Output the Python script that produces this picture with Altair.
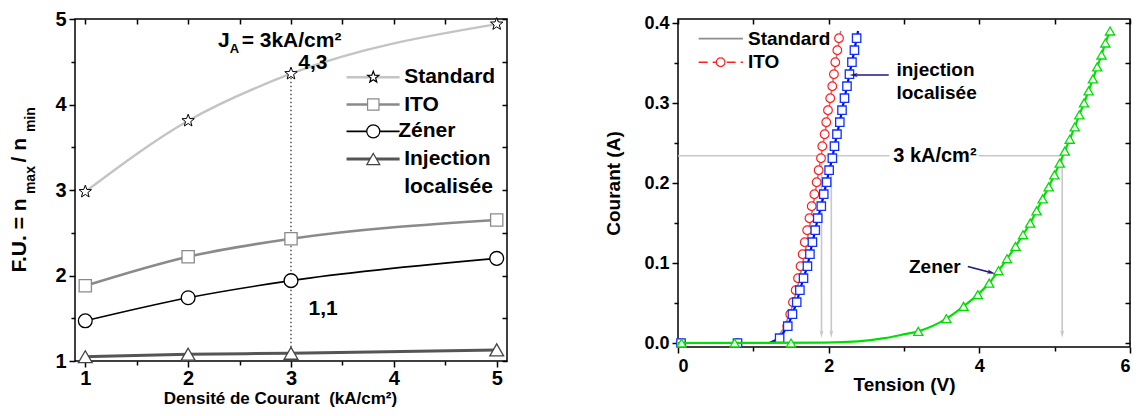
import altair as alt
import pandas as pd

FONT = "Liberation Sans"

# ---------------- left panel : F.U. vs current density ----------------
density = [1, 2, 3, 5]
fu_standard = [2.98, 3.81, 4.36, 4.94]
fu_ito = [1.88, 2.22, 2.43, 2.65]
fu_zener = [1.47, 1.74, 1.94, 2.20]
fu_injection = [1.05, 1.08, 1.09, 1.13]

left_x_major = [1, 2, 3, 4, 5]
left_x_minor = [1.5, 2.5, 3.5, 4.5]
left_y_major = [1, 2, 3, 4, 5]
left_y_minor = [1.5, 2.5, 3.5, 4.5]
left_inner = [1.0, 1.5, 2.0, 2.5, 3.0, 3.5, 4.0, 4.5, 5.0]

legend_left_labels = ["Standard", "ITO", "Zéner", "Injection"]

# ---------------- right panel : I(V) ----------------
std_v = [0.0, 1.2, 1.3, 1.4, 1.5, 1.6, 1.7, 1.8, 1.9, 2.0, 2.1, 2.16]
std_i = [0.0, 0.0, 0.004, 0.018, 0.04, 0.075, 0.12, 0.175, 0.234, 0.29, 0.355, 0.39]

steps_i = [0.021, 0.036, 0.051, 0.066, 0.081, 0.096, 0.111, 0.126, 0.141, 0.156,
           0.171, 0.186, 0.201, 0.216, 0.231, 0.246, 0.261, 0.276, 0.291, 0.306,
           0.321, 0.336, 0.351, 0.366, 0.381]

ito_v = [0.04, 0.79, 1.45, 1.49, 1.526, 1.562, 1.593, 1.627, 1.655, 1.683, 1.715,
         1.745, 1.775, 1.81, 1.841, 1.867, 1.898, 1.915, 1.947, 1.968, 1.991, 2.021,
         2.048, 2.07, 2.088, 2.115, 2.137]
ito_i = [0.0, 0.0] + steps_i

inj_v = [0.04, 0.79, 1.349, 1.457, 1.519, 1.576, 1.618, 1.666, 1.718, 1.751, 1.784,
         1.822, 1.855, 1.902, 1.935, 1.973, 2.006, 2.049, 2.077, 2.110, 2.148, 2.177,
         2.210, 2.243, 2.276, 2.309, 2.342, 2.371]
inj_i = [0.0, 0.0, 0.006] + steps_i
inj_line_v = [0.0, 1.22] + inj_v[2:] + [2.39]
inj_line_i = [0.0, 0.0] + inj_i[2:] + [0.39]

zen_v = [0.047, 0.752, 1.500, 3.189, 3.563, 3.790, 3.980, 4.131, 4.254, 4.368, 4.481,
         4.580, 4.675, 4.760, 4.841, 4.921, 4.997, 5.068, 5.134, 5.200, 5.267, 5.328,
         5.390, 5.451, 5.508, 5.565, 5.622, 5.673, 5.735]
zen_i = [0.0, 0.0, 0.0, 0.0146, 0.0304, 0.0458, 0.0604, 0.0749, 0.0903, 0.1053,
         0.1207, 0.1353, 0.1498, 0.1652, 0.1802, 0.1952, 0.2102, 0.2248, 0.2398,
         0.2547, 0.2701, 0.2851, 0.3001, 0.3151, 0.3301, 0.3451, 0.3600, 0.3750, 0.3900]
zen_line_v = [0.0, 1.95, 2.39, 2.74, 3.01]
zen_line_i = [0.0, 0.0005, 0.002, 0.006, 0.011]

ref_level = 0.234                      # 3 kA/cm2
ref_drop_v = [1.905, 2.035, 5.10]      # voltages read at 3 kA/cm2
right_x_major = [0, 2, 4, 6]
right_x_minor = [1, 3, 5]
right_x_inner = [0, 1, 2, 3, 4, 5, 6]
right_y_major = [0.0, 0.1, 0.2, 0.3, 0.4]
right_y_minor = [0.05, 0.15, 0.25, 0.35]
right_y_inner = [0.0, 0.05, 0.1, 0.15, 0.2, 0.25, 0.3, 0.35, 0.4]

STAR = ("M0,-1L0.247,-0.34L0.951,-0.309L0.399,0.13L0.588,0.809L0,0.42"
        "L-0.588,0.809L-0.399,0.13L-0.951,-0.309L-0.247,-0.34Z")
HEAD = "M0,-1L0.5,1L0,0.55L-0.5,1Z"


def frame(**cols):
    return pd.DataFrame(cols)


def major_axis(orient, values, fmt, lab_size, title=None, title_size=16,
               tick=6, lab_pad=2, title_pad=4, **extra):
    return alt.Axis(orient=orient, values=values, format=fmt, title=title,
                    labelFont=FONT, labelFontSize=lab_size, labelFontWeight="bold",
                    labelColor="black", titleFont=FONT, titleFontSize=title_size,
                    titleFontWeight="bold", titleColor="black", tickSize=tick,
                    tickWidth=1.5, tickColor="black", labelPadding=lab_pad,
                    titlePadding=title_pad, domain=False, grid=False, **extra)


def minor_axis(orient, values, tick=4):
    return alt.Axis(orient=orient, values=values, labels=False, title=None,
                    tickSize=tick, tickWidth=1.5, tickColor="black",
                    domain=False, grid=False)


def inner_axis(orient, values, tick=5):
    return alt.Axis(orient=orient, values=values, labels=False, title=None,
                    tickSize=tick, offset=-tick, tickWidth=1.5, tickColor="black",
                    domain=False, grid=False)


def text_layer(data, xs, ys, size, align="left", color="black", angle=0, xval=None):
    enc = dict(y=alt.Y("y:Q", scale=ys, axis=None), text="t:N")
    if xval is None:
        enc["x"] = alt.X("x:Q", scale=xs, axis=None)
    else:
        enc["x"] = alt.value(xval)
    props = dict(font=FONT, fontSize=size, fontWeight="bold", align=align,
                 baseline="middle", color=color)
    if angle:
        props["angle"] = angle
    return alt.Chart(data).mark_text(**props).encode(**enc)


# ======================= LEFT PANEL =======================
xL = alt.Scale(domain=[0.9, 5.1], nice=False, zero=False)
yL = alt.Scale(domain=[1, 5], nice=False, zero=False)

def lx(axis=None):
    return alt.X("x:Q", scale=xL, axis=axis)

def ly(axis=None):
    return alt.Y("y:Q", scale=yL, axis=axis)

std_df = frame(x=density, y=fu_standard)
ito_df = frame(x=density, y=fu_ito)
zen_df = frame(x=density, y=fu_zener)
inj_df = frame(x=density, y=fu_injection)

left_layers = [
    alt.Chart(std_df).mark_line(color="#c4c4c4", strokeWidth=2.4, interpolate="monotone").encode(
        x=lx(major_axis("bottom", left_x_major, "d", 20,
                        title="Densité de Courant\u00a0\u00a0(kA/cm²)", title_size=17,
                        tick=6, lab_pad=1, title_pad=2, titleX=205)),
        y=ly(major_axis("left", left_y_major, "d", 20, tick=6, lab_pad=3))),
    alt.Chart(ito_df).mark_line(color="#8a8a8a", strokeWidth=2.6, interpolate="monotone").encode(
        x=lx(minor_axis("bottom", left_x_minor)), y=ly(minor_axis("left", left_y_minor))),
    alt.Chart(zen_df).mark_line(color="black", strokeWidth=1.6, interpolate="monotone").encode(
        x=lx(inner_axis("top", left_inner)), y=ly(inner_axis("right", left_inner))),
    alt.Chart(inj_df).mark_line(color="#555555", strokeWidth=3, interpolate="monotone").encode(
        x=lx(), y=ly()),
    # dotted guide at 3 kA/cm2
    alt.Chart(frame(x=[3], y=[fu_standard[2]], y2=[fu_injection[2]])).mark_rule(
        color="black", strokeWidth=1, strokeDash=[1.5, 2.5]).encode(
        x=lx(), y=ly(), y2="y2:Q"),
    alt.Chart(std_df).mark_point(shape=STAR, size=170, filled=True, fill="white",
                                 stroke="black", strokeWidth=1, opacity=1).encode(x=lx(), y=ly()),
    alt.Chart(ito_df).mark_point(shape="square", size=150, filled=True, fill="white",
                                 stroke="#8a8a8a", strokeWidth=1.3, opacity=1).encode(x=lx(), y=ly()),
    alt.Chart(zen_df).mark_point(shape="circle", size=190, filled=True, fill="white",
                                 stroke="black", strokeWidth=1.3, opacity=1).encode(x=lx(), y=ly()),
    alt.Chart(inj_df).mark_point(shape="triangle-up", size=190, filled=True, fill="white",
                                 stroke="#444444", strokeWidth=1.3, opacity=1).encode(x=lx(), y=ly()),
]

# legend (drawn with the same styles)
leg_y = [4.319, 4.0, 3.686, 3.362]
leg_styles = [("#c4c4c4", 2.4, STAR, "black", 140),
              ("#8a8a8a", 2.6, "square", "#8a8a8a", 130),
              ("black", 1.6, "circle", "black", 170),
              ("#555555", 3, "triangle-up", "#444444", 170)]
for k, (col, w, shp, scol, sz) in enumerate(leg_styles):
    left_layers.append(
        alt.Chart(frame(x=[3.54], x2=[4.056], y=[leg_y[k]])).mark_rule(
            color=col, strokeWidth=w).encode(x=lx(), x2="x2:Q", y=ly()))
    left_layers.append(
        alt.Chart(frame(x=[3.80], y=[leg_y[k]])).mark_point(
            shape=shp, size=sz, filled=True, fill="white", stroke=scol,
            strokeWidth=1.2, opacity=1).encode(x=lx(), y=ly()))
left_layers.append(text_layer(
    frame(x=[4.10, 4.10, 4.043, 4.10, 4.10], y=leg_y + [3.030],
          t=legend_left_labels + ["localisée"]), xL, yL, 21))

# annotations
left_layers += [
    text_layer(frame(x=[2.29], y=[4.743], t=["J"]), xL, yL, 21),
    text_layer(frame(x=[2.405], y=[4.644], t=["A"]), xL, yL, 13),
    text_layer(frame(x=[2.52], y=[4.743], t=["= 3kA/cm²"]), xL, yL, 21),
    text_layer(frame(x=[3.07, 3.17], y=[4.49, 1.605], t=["4,3", "1,1"]), xL, yL, 21),
    # y-axis title  F.U. = n_max / n_min
    text_layer(frame(y=[2.035, 3.323], t=["F.U. = n", "/ n"]), xL, yL, 21, angle=270, xval=-55),
    text_layer(frame(y=[2.952, 3.677], t=["max", "min"]), xL, yL, 14, angle=270, xval=-44),
]

left = alt.layer(*left_layers).resolve_axis(x="independent", y="independent").properties(
    width=432, height=342)

# ======================= RIGHT PANEL =======================
xR = alt.Scale(domain=[0, 6], nice=False, zero=False)
yR = alt.Scale(domain=[-0.005, 0.405], nice=False, zero=False)

def rx(axis=None):
    return alt.X("x:Q", scale=xR, axis=axis)

def ry(axis=None):
    return alt.Y("y:Q", scale=yR, axis=axis)

GRAY = "#c8c8c8"
NAVY = "#1a1a80"

right_layers = [
    # 3 kA/cm2 reference lines
    alt.Chart(frame(x=[0.0, 3.989], x2=[2.806, 5.10], y=[ref_level, ref_level])).mark_rule(
        color=GRAY, strokeWidth=1.6).encode(
        x=rx(major_axis("bottom", right_x_major, "d", 18, title="Tension (V)",
                        title_size=19, tick=6, lab_pad=4, title_pad=0)),
        x2="x2:Q",
        y=ry(major_axis("left", right_y_major, ".1f", 18, title="Courant (A)",
                        title_size=19, tick=6, lab_pad=3, title_pad=20))),
    alt.Chart(frame(x=ref_drop_v, y=[ref_level] * 3, y2=[0.012] * 3)).mark_rule(
        color=GRAY, strokeWidth=1.6).encode(
        x=rx(minor_axis("bottom", right_x_minor)), y=ry(minor_axis("left", right_y_minor)),
        y2="y2:Q"),
    alt.Chart(frame(x=ref_drop_v, y=[0.011] * 3)).mark_point(
        shape=HEAD, size=60, angle=180, filled=True, color=GRAY, opacity=1).encode(
        x=rx(inner_axis("top", right_x_inner)), y=ry(inner_axis("right", right_y_inner))),
    # Standard (grey line)
    alt.Chart(frame(x=std_v, y=std_i)).mark_line(color="#8c8c8c", strokeWidth=1.6).encode(
        x=rx(), y=ry()),
    # ITO (red circles)
    alt.Chart(frame(x=ito_v, y=ito_i)).mark_point(
        shape="circle", size=75, filled=True, fill="white", stroke="#ff2020",
        strokeWidth=1.2, opacity=1).encode(x=rx(), y=ry()),
    # injection localisee (blue)
    alt.Chart(frame(x=inj_line_v, y=inj_line_i)).mark_line(color="#0000ff", strokeWidth=2.2).encode(
        x=rx(), y=ry()),
    alt.Chart(frame(x=inj_v, y=inj_i)).mark_point(
        shape="square", size=70, filled=True, fill="white", stroke="#1030ff",
        strokeWidth=1.3, opacity=1).encode(x=rx(), y=ry()),
    # Zener (green)
    alt.Chart(frame(x=zen_line_v + zen_v[3:], y=zen_line_i + zen_i[3:])).mark_line(
        color="#00e000", strokeWidth=2.2, interpolate="monotone").encode(x=rx(), y=ry()),
    alt.Chart(frame(x=zen_v, y=zen_i)).mark_point(
        shape="triangle-up", size=85, filled=True, fill="white", stroke="#00dd00",
        strokeWidth=1.3, opacity=1).encode(x=rx(), y=ry()),
    # arrows
    alt.Chart(frame(x=[2.797, 3.847], x2=[2.33, 4.15], y=[0.335, 0.0957], y2=[0.335, 0.0882])).mark_rule(
        color=NAVY, strokeWidth=1.6).encode(x=rx(), x2="x2:Q", y=ry(), y2="y2:Q"),
    alt.Chart(frame(x=[2.33, 4.16], y=[0.335, 0.0879], a=[270, 106])).mark_point(
        shape=HEAD, size=70, filled=True, color=NAVY, opacity=1).encode(
        x=rx(), y=ry(), angle=alt.Angle("a:Q", scale=None)),
    # legend
    alt.Chart(frame(x=[0.274], x2=[0.862], y=[0.3805])).mark_rule(
        color="#8c8c8c", strokeWidth=1.6).encode(x=rx(), x2="x2:Q", y=ry()),
    alt.Chart(frame(x=[0.274], x2=[0.862], y=[0.351])).mark_rule(
        color="#ff2020", strokeWidth=1.4, strokeDash=[9, 5]).encode(x=rx(), x2="x2:Q", y=ry()),
    alt.Chart(frame(x=[0.566], y=[0.351])).mark_point(
        shape="circle", size=75, filled=True, fill="white", stroke="#ff2020",
        strokeWidth=1.2, opacity=1).encode(x=rx(), y=ry()),
    text_layer(frame(x=[0.929, 0.929], y=[0.3805, 0.351], t=["Standard", "ITO"]), xR, yR, 19),
    # annotations
    text_layer(frame(x=[2.90, 2.90, 3.066], y=[0.341, 0.312, 0.095],
                     t=["injection", "localisée", "Zener"]), xR, yR, 19),
    text_layer(frame(x=[3.41], y=[ref_level], t=["3 kA/cm²"]), xR, yR, 20, align="center"),
]

right = alt.layer(*right_layers).resolve_axis(x="independent", y="independent").properties(
    width=452, height=328)

chart = alt.hconcat(left, right, spacing=171, bounds="flush").properties(
    padding={"left": 0, "top": 0, "right": 0, "bottom": 0}
).configure_view(stroke="black", strokeWidth=1.5)

chart.save("out.html", embed_options={"renderer": "svg", "actions": False})
